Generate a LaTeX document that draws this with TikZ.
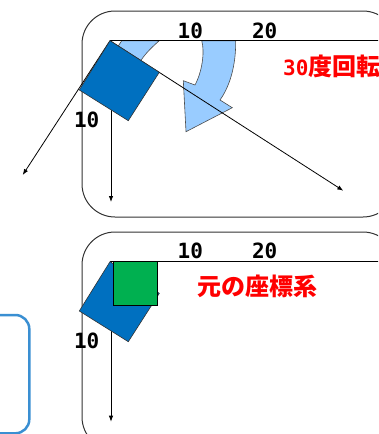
\documentclass[tikz,border=0pt]{standalone}
\usepackage{fontspec}
\usetikzlibrary{arrows.meta}
\newfontfamily\monof{DejaVu Sans Mono}
\newfontfamily\jpf{Noto Sans CJK JP}
\definecolor{sqblue}{RGB}{0,112,192}
\definecolor{sqgreen}{RGB}{0,176,80}
\definecolor{lightarrow}{RGB}{153,204,255}
\definecolor{boxblue}{RGB}{58,143,210}
\definecolor{textred}{RGB}{255,0,0}
\tikzset{
  panel/.style={draw=black!80, line width=1pt, rounded corners=33pt},
  axis/.style={draw=black, line width=0.8pt},
  axisarrow/.style={axis, -{Latex[length=6pt,width=4.5pt]}},
  numlabel/.style={inner sep=0pt, font=\monof\bfseries\fontsize{21}{21}\selectfont},
  jplabel/.style={inner sep=0pt, text=textred, font=\jpf\bfseries\fontsize{24}{24}\selectfont},
  rotsq/.style={fill=sqblue, draw=black!80, line width=0.6pt},
  greensq/.style={fill=sqgreen, draw=black, line width=0.8pt},
  turnarrow/.style={fill=lightarrow, draw=black!70, line width=0.6pt},
  sidebox/.style={draw=boxblue, line width=2.5pt, rounded corners=14pt}
}
\begin{document}
\begin{tikzpicture}[x=1pt,y=-1pt]
\useasboundingbox (0,0) rectangle (378,434);
\clip (0,0) rectangle (378,434);

% side box (bottom left)
\draw[sidebox] (-60,315) rectangle (29.3,433.3);

% ===== top panel =====
\draw[panel] (82,11) rectangle (396,217);

% curved turn arrow
\draw[turnarrow] (121.7,40.7) -- (159.3,40.7) .. controls (152,47) and (146,53) .. (141.7,59.3)
  -- (128,75) -- (113,55) .. controls (116,48) and (120,44) .. cycle;
\draw[turnarrow] (201.7,40.7) -- (235.7,40.7) .. controls (236,65) and (230,86) .. (220,100)
  -- (232.3,107.7) -- (186,131.7) -- (183.3,80.7) -- (195,85)
  .. controls (202,72) and (205,52) .. cycle;

\coordinate (O1) at (110,40.7);
\coordinate (O1v) at (111,40.7);
\coordinate (X1) at (400,40.7);
\coordinate (Y1) at (111,202);
\coordinate (XR1) at (343.3,190.7);
\coordinate (YR1) at (22.7,175);
\draw[axis] (O1) -- (X1);
\draw[axisarrow] (O1v) -- (Y1);
\draw[axisarrow] (O1) -- (XR1);
\draw[axisarrow] (O1) -- (YR1);

\draw[rotsq] (110,40.7) -- (159.3,72.3) -- (128.3,120.7) -- (79.3,90) -- cycle;

\node[numlabel] (t10) at (190.3,30.5) {10};
\node[numlabel] (t20) at (264.7,30.5) {20};
\node[numlabel] (l10) at (86.7,119.5) {10};
\node[anchor=west, inner sep=0pt, text=textred] (rot) at (283,66)
  {{\monof\bfseries\fontsize{21}{21}\selectfont 30}{\jpf\bfseries\fontsize{24}{24}\selectfont 度回転}};

% ===== bottom panel =====
\draw[panel] (82,232) rectangle (396,450);
\begin{scope}[shift={(0,221)}]
\coordinate (O2) at (110,40.7);
\coordinate (O2v) at (111,40.7);
\coordinate (X2) at (400,40.7);
\coordinate (Y2) at (111,200.7);
\draw[axis] (O2) -- (X2);
\draw[axisarrow] (O2v) -- (Y2);
\draw[rotsq] (110,40.7) -- (159.3,72.3) -- (128.3,120.7) -- (79.3,90) -- cycle;
\draw[greensq] (113.3,40.5) rectangle (157.7,84.3);
\node[numlabel] (b10) at (190.3,29.5) {10};
\node[numlabel] (b20) at (264.7,29.5) {20};
\node[numlabel] (bl10) at (86.7,119.8) {10};
\node[jplabel] (orig) at (257.5,65.7) {元の座標系};
\end{scope}
\end{tikzpicture}
\end{document}
